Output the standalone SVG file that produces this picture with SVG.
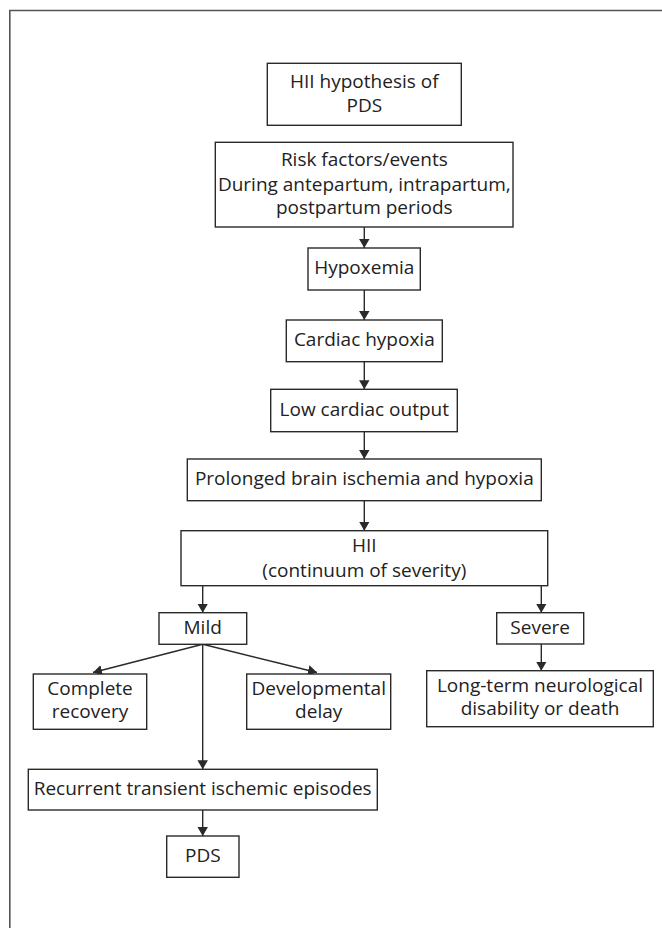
<svg xmlns="http://www.w3.org/2000/svg" width="662" height="928" viewBox="0 0 662 928">
<style>
  .box { fill: #ffffff; stroke: #2a2a2a; stroke-width: 1.4; }
  .t { font-family: "Open Sans", "Noto Sans", "Liberation Sans", sans-serif; font-size: 19px; fill: #222222; text-anchor: middle; }
  .c { stroke: #2a2a2a; stroke-width: 1.4; fill: none; marker-end: url(#ah); }
</style>
<defs>
  <marker id="ah" markerUnits="userSpaceOnUse" markerWidth="10" markerHeight="11" refX="9" refY="5.25" orient="auto">
    <path d="M0,0 L9,5.25 L0,10.5 z" fill="#2a2a2a"/>
  </marker>
</defs>
<rect width="662" height="928" fill="#ffffff"/>
<path d="M9.8,928 L9.8,10.5 L662,10.5" fill="none" stroke="#555555" stroke-width="1.6"/>

<g id="connectors">
  <line class="c" x1="364.3" y1="227" x2="364.3" y2="248"/>
  <line class="c" x1="364.3" y1="290" x2="364.3" y2="320"/>
  <line class="c" x1="364.3" y1="361.7" x2="364.3" y2="389.3"/>
  <line class="c" x1="364.3" y1="431.7" x2="364.3" y2="459"/>
  <line class="c" x1="364.3" y1="500.7" x2="364.3" y2="530.7"/>
  <line class="c" x1="202.7" y1="585.7" x2="202.7" y2="612.7"/>
  <line class="c" x1="541.3" y1="585.7" x2="541.3" y2="612.7"/>
  <line class="c" x1="541.3" y1="644" x2="541.3" y2="670.7"/>
  <line class="c" x1="202.7" y1="644.3" x2="93" y2="672.5"/>
  <line class="c" x1="202.7" y1="644.3" x2="317" y2="672.5"/>
  <line class="c" x1="202.7" y1="644.3" x2="202.7" y2="769.3"/>
  <line class="c" x1="202.7" y1="810" x2="202.7" y2="836"/>
</g>

<g id="n-hypothesis">
  <rect class="box" x="267.3" y="63.3" width="194" height="62"/>
  <text class="t" x="364.3" y="88">HII hypothesis of</text>
  <text class="t" x="364.3" y="111.7">PDS</text>
</g>
<g id="n-risk">
  <rect class="box" x="215.3" y="142.3" width="297.7" height="84.7"/>
  <text class="t" x="364.3" y="166">Risk factors/events</text>
  <text class="t" x="364.3" y="190.7">During antepartum, intrapartum,</text>
  <text class="t" x="364.3" y="213.5">postpartum periods</text>
</g>
<g id="n-hypoxemia">
  <rect class="box" x="308" y="248" width="112.3" height="42"/>
  <text class="t" x="364.3" y="274.3">Hypoxemia</text>
</g>
<g id="n-cardiac">
  <rect class="box" x="286.3" y="320" width="156" height="41.7"/>
  <text class="t" x="364.3" y="346">Cardiac hypoxia</text>
</g>
<g id="n-output">
  <rect class="box" x="270.7" y="389.3" width="186.6" height="42.4"/>
  <text class="t" x="364.3" y="416">Low cardiac output</text>
</g>
<g id="n-prolonged">
  <rect class="box" x="187.3" y="459" width="354" height="41.7"/>
  <text class="t" x="364.3" y="485">Prolonged brain ischemia and hypoxia</text>
</g>
<g id="n-hii">
  <rect class="box" x="181" y="530.7" width="366.7" height="55"/>
  <text class="t" x="364.3" y="551.7">HII</text>
  <text class="t" x="364.3" y="576.7">(continuum of severity)</text>
</g>
<g id="n-mild">
  <rect class="box" x="159" y="612.7" width="87.7" height="31.6"/>
  <text class="t" x="202.7" y="634.3">Mild</text>
</g>
<g id="n-severe">
  <rect class="box" x="496.7" y="612.7" width="87" height="31.3"/>
  <text class="t" x="540.2" y="634.3">Severe</text>
</g>
<g id="n-complete">
  <rect class="box" x="33.3" y="674" width="113.4" height="55.3"/>
  <text class="t" x="90" y="695">Complete</text>
  <text class="t" x="90" y="718.3">recovery</text>
</g>
<g id="n-developmental">
  <rect class="box" x="246.7" y="674" width="144" height="55.3"/>
  <text class="t" x="318.7" y="695">Developmental</text>
  <text class="t" x="318.7" y="718.3">delay</text>
</g>
<g id="n-longterm">
  <rect class="box" x="426.7" y="670.7" width="226.6" height="56"/>
  <text class="t" x="540" y="691.7">Long-term neurological</text>
  <text class="t" x="540" y="715">disability or death</text>
</g>
<g id="n-recurrent">
  <rect class="box" x="28.3" y="769.3" width="349" height="40.7"/>
  <text class="t" x="202.7" y="795">Recurrent transient ischemic episodes</text>
</g>
<g id="n-pds">
  <rect class="box" x="166.7" y="836" width="72.3" height="41.3"/>
  <text class="t" x="202.8" y="861.7">PDS</text>
</g>
</svg>
